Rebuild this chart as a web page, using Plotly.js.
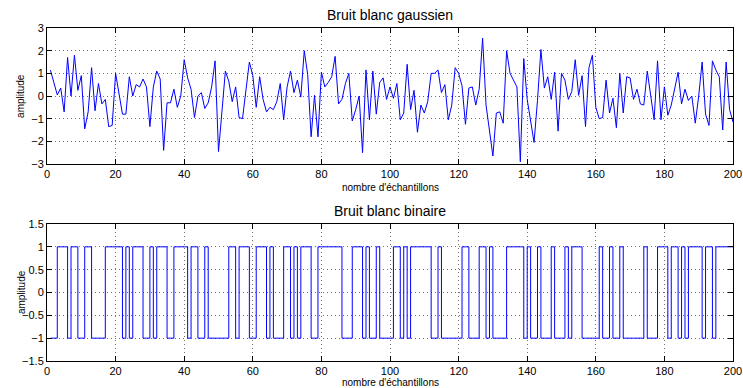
<!DOCTYPE html>
<html>
<head>
<meta charset="utf-8">
<script src="https://cdn.plot.ly/plotly-3.0.1.min.js"></script>
<style>html,body{margin:0;padding:0;background:#fff;}#chart{width:743px;height:388px;}</style>
</head>
<body>
<div id="chart"></div>
<script>
// Sample index (1..200)
const sampleIndex = Array.from({length: 200}, (_, i) => i + 1);

// Gaussian white noise values
const gaussianNoise = [
  1.14,0.6,0.05,0.35,-0.7,1.7,0.0,1.8,0.25,0.9,
  -1.45,-0.7,1.25,-0.65,0.55,-0.35,-0.15,-1.35,-1.3,1.0,
  0.0,-0.8,-0.8,0.85,0.0,0.5,0.4,0.75,0.4,-1.35,
  0.4,1.1,0.75,-2.4,-0.3,-0.3,0.3,-0.5,0.0,1.6,
  0.8,0.3,-0.95,0.0,0.15,-0.55,-0.3,0.4,1.55,-2.45,
  -0.7,1.1,0.65,-0.25,0.4,-0.95,-1.0,0.3,1.5,0.9,
  -0.5,0.85,-0.15,-0.7,-0.5,-0.6,-0.25,0.55,-1.05,0.4,
  1.1,0.15,0.7,-0.05,2.0,0.95,-1.8,0.03,-1.8,1.05,
  0.4,0.6,0.85,1.75,-0.35,-0.15,0.55,1.0,-1.1,-0.6,
  0.0,-2.5,1.15,-1.05,1.1,-0.8,0.6,0.8,-0.15,0.4,
  -0.1,0.55,-1.05,-0.75,1.4,-0.6,0.25,-1.6,-0.4,-0.75,
  -0.25,1.0,1.0,1.15,0.15,0.5,-1.05,-0.4,1.25,1.0,
  0.45,-1.25,0.35,0.4,-0.4,0.3,2.55,-0.4,-1.55,-2.65,
  -0.75,-0.7,-1.2,2.0,1.0,0.7,0.4,-2.9,1.65,-0.15,
  -1.05,-2.05,-0.2,2.05,0.35,0.85,-0.15,1.05,-1.55,1.0,
  0.7,-0.15,0.2,1.6,0.03,0.9,-1.35,1.25,1.8,-0.5,
  -1.0,-0.95,0.7,-0.75,-0.1,-1.4,1.0,-0.75,0.85,0.8,
  -0.15,0.3,-0.35,-0.4,1.1,0.0,-1.05,1.55,-1.05,0.4,
  -0.85,-0.4,0.3,1.05,-0.35,0.3,-0.2,0.0,-1.2,0.0,
  1.5,-0.8,-1.3,1.55,1.15,0.85,-1.5,1.5,-0.6,-1.15
];

// Binary white noise values (+1 / -1)
const binaryNoise = [
  -1,-1,1,1,1,-1,1,1,-1,-1,
  1,1,-1,-1,-1,-1,1,1,1,1,
  1,-1,1,-1,1,1,1,-1,-1,1,
  -1,1,1,1,-1,-1,1,1,1,1,
  -1,1,1,-1,-1,1,-1,-1,-1,-1,
  -1,-1,1,1,-1,1,1,1,-1,-1,
  1,1,1,-1,1,-1,-1,-1,1,1,
  -1,1,-1,1,1,1,-1,-1,1,1,
  1,1,1,1,1,-1,-1,-1,1,1,
  1,-1,1,-1,-1,1,-1,-1,-1,-1,
  1,1,-1,1,-1,1,1,1,1,1,
  1,-1,-1,1,-1,-1,-1,-1,-1,-1,
  1,1,-1,-1,-1,1,1,-1,1,-1,
  -1,-1,-1,1,1,1,1,1,-1,1,
  -1,-1,1,-1,-1,-1,1,-1,-1,-1,
  1,-1,1,1,1,-1,-1,-1,-1,-1,
  1,-1,-1,1,-1,-1,1,-1,-1,-1,
  -1,-1,-1,1,-1,-1,-1,1,1,1,
  -1,1,1,-1,1,-1,1,1,1,1,
  -1,1,1,-1,1,1,1,1,1,1
];

const titles = ["Bruit blanc gaussien", "Bruit blanc binaire"];
const xLabel = "nombre d'échantillons";
const yLabel = "amplitude";

const FONT = "Liberation Sans, Arial, Helvetica, sans-serif";

const traces = [
  {x: sampleIndex, y: gaussianNoise, type: 'scatter', mode: 'lines',
   line: {color: '#0000ff', width: 1}, xaxis: 'x', yaxis: 'y', hoverinfo: 'skip'},
  {x: sampleIndex, y: binaryNoise, type: 'scatter', mode: 'lines',
   line: {color: '#0000ff', width: 1, shape: 'hv'}, xaxis: 'x2', yaxis: 'y2', hoverinfo: 'skip'}
];

function axisBase(extra) {
  return Object.assign({
    ticks: 'inside', ticklen: 5, tickcolor: '#000', tickwidth: 1,
    showline: true, mirror: 'ticks', linecolor: '#000', linewidth: 1,
    showgrid: true, gridcolor: '#707070', griddash: '1px,3px', gridwidth: 1,
    zeroline: false, tickfont: {family: FONT, size: 11, color: '#000'},
    fixedrange: true
  }, extra);
}

const layout = {
  width: 743, height: 388,
  margin: {l: 47, r: 10, t: 28, b: 27},
  paper_bgcolor: '#fff', plot_bgcolor: '#fff',
  showlegend: false,
  font: {family: FONT, color: '#000'},
  xaxis: axisBase({range: [0, 200], tick0: 0, dtick: 20, anchor: 'y'}),
  yaxis: axisBase({range: [-3, 3], tick0: -3, dtick: 1, domain: [0.5916, 1], anchor: 'x'}),
  xaxis2: axisBase({range: [0, 200], tick0: 0, dtick: 20, anchor: 'y2'}),
  yaxis2: axisBase({range: [-1.5, 1.5], tick0: -1.5, dtick: 0.5, domain: [0, 0.4114], anchor: 'x2'}),
  annotations: [
    {text: titles[0], xref: 'paper', yref: 'paper', x: 0.5, y: 1.039, showarrow: false,
     xanchor: 'center', yanchor: 'middle', font: {size: 14, family: FONT, color: '#000'}},
    {text: titles[1], xref: 'paper', yref: 'paper', x: 0.5, y: 0.4505, showarrow: false,
     xanchor: 'center', yanchor: 'middle', font: {size: 14, family: FONT, color: '#000'}},
    {text: xLabel, xref: 'paper', yref: 'paper', x: 0.5, y: 0.5225, showarrow: false,
     xanchor: 'center', yanchor: 'middle', font: {size: 10, family: FONT, color: '#000'}},
    {text: xLabel, xref: 'paper', yref: 'paper', x: 0.5, y: -0.066, showarrow: false,
     xanchor: 'center', yanchor: 'middle', font: {size: 10, family: FONT, color: '#000'}},
    {text: yLabel, xref: 'paper', yref: 'paper', x: -0.0379, y: 0.796, showarrow: false,
     textangle: -90, xanchor: 'center', yanchor: 'middle', font: {size: 10, family: FONT, color: '#000'}},
    {text: yLabel, xref: 'paper', yref: 'paper', x: -0.0379, y: 0.207, showarrow: false,
     textangle: -90, xanchor: 'center', yanchor: 'middle', font: {size: 10, family: FONT, color: '#000'}}
  ]
};

Plotly.newPlot('chart', traces, layout, {staticPlot: true, displayModeBar: false});
</script>
</body>
</html>
